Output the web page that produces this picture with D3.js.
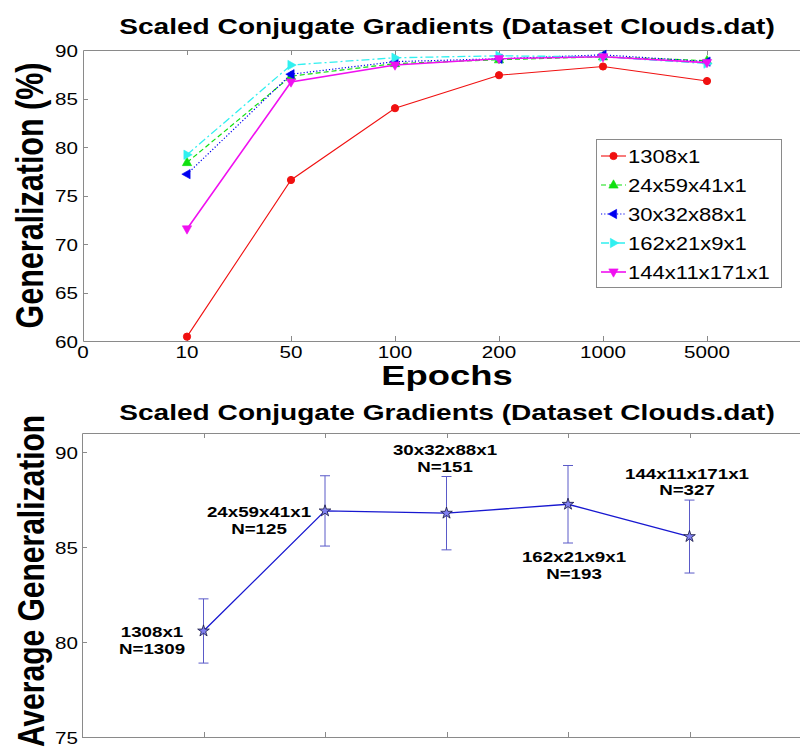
<!DOCTYPE html>
<html>
<head>
<meta charset="utf-8">
<script src="https://cdn.jsdelivr.net/npm/d3@7"></script>
<style>
  html, body { margin: 0; padding: 0; background: #fff; }
  svg { display: block; font-family: "Liberation Sans", Arial, Helvetica, sans-serif; }
</style>
</head>
<body>
<svg id="chart" width="800" height="754"></svg>
<script>
// ---- Data: generalization (%) per training length, one array per architecture ----
const epochTickLabels = ["0", "10", "50", "100", "200", "1000", "5000"];
const epochs = ["10", "50", "100", "200", "1000", "5000"];
const seriesNames = ["1308x1", "24x59x41x1", "30x32x88x1", "162x21x9x1", "144x11x171x1"];
const gen1308x1 = [60.45, 76.6, 84.0, 87.4, 88.3, 86.8];
const gen24x59x41x1 = [78.4, 87.3, 88.6, 89.0, 89.3, 88.9];
const gen30x32x88x1 = [77.2, 87.5, 88.8, 89.1, 89.5, 88.8];
const gen162x21x9x1 = [79.2, 88.45, 89.2, 89.4, 89.3, 88.6];
const gen144x11x171x1 = [71.55, 86.7, 88.45, 89.1, 89.3, 88.7];
const genTicks = [60, 65, 70, 75, 80, 85, 90];

// ---- Data: average generalization with spread, per architecture ----
const archLabels = ["1308x1", "24x59x41x1", "30x32x88x1", "162x21x9x1", "144x11x171x1"];
const sampleCounts = [1309, 125, 151, 193, 327];
const avgGeneralization = [80.58, 86.9, 86.78, 87.25, 85.55];
const spreadGeneralization = [1.69, 1.85, 1.93, 2.04, 1.92];
const avgTicks = [75, 80, 85, 90];

const chartTitle = "Scaled Conjugate Gradients (Dataset Clouds.dat)";

const svg = d3.select("#chart");
const AXIS_GREY = "#8a8a8a";

// Text helper: glyphs are drawn slightly wide, optional rotation
function label(g, x, y, str, o = {}) {
  const sx = o.sx ?? 1.25, rot = o.rot ?? 0;
  return g.append("text")
    .attr("transform", `translate(${x},${y}) scale(${sx},1) rotate(${rot})`)
    .attr("text-anchor", o.anchor ?? "middle")
    .attr("font-size", o.size ?? 16.5)
    .attr("font-weight", o.weight ?? "normal")
    .attr("fill", "#000")
    .text(str);
}

// Marker shapes
function triPath(r) {
  return `M0,${-r}L${r * 0.9},${r * 0.6}L${-r * 0.9},${r * 0.6}Z`;
}
const markerSpec = [
  { kind: "circle" },
  { kind: "tri", rot: 0 },
  { kind: "tri", rot: -90 },
  { kind: "tri", rot: 90 },
  { kind: "tri", rot: 180 }
];
function drawMarker(g, x, y, spec, color) {
  if (spec.kind === "circle") {
    g.append("circle").attr("cx", x).attr("cy", y).attr("r", 3.6).attr("fill", color).attr("stroke", color);
  } else {
    g.append("path").attr("d", triPath(5.2))
      .attr("transform", `translate(${x},${y}) rotate(${spec.rot})`)
      .attr("fill", color).attr("stroke", color).attr("stroke-width", 0.6);
  }
}

// ================= Upper panel =================
const upper = { left: 83, right: 811, top: 50, bottom: 341 };
const xTop = d3.scaleLinear().domain([0, 7]).range([upper.left, upper.right]);
const yTop = d3.scaleLinear().domain([60, 90]).range([upper.bottom, upper.top]);

const gTop = svg.append("g");

// box
gTop.append("path")
  .attr("d", `M${upper.right},${upper.top + 0.5}H${upper.left + 0.5}V${upper.bottom + 0.5}H${upper.right}`)
  .attr("fill", "none").attr("stroke", AXIS_GREY).attr("stroke-width", 1);

// x ticks on top and bottom (inward)
epochTickLabels.forEach((t, i) => {
  const x = Math.round(xTop(i)) + 0.5;
  if (i > 0) {
    gTop.append("line").attr("x1", x).attr("x2", x).attr("y1", upper.top).attr("y2", upper.top + 5)
      .attr("stroke", AXIS_GREY);
    gTop.append("line").attr("x1", x).attr("x2", x).attr("y1", upper.bottom).attr("y2", upper.bottom - 5)
      .attr("stroke", AXIS_GREY);
  }
  label(gTop, xTop(i), 358, t, { size: 16.5 });
});
// y ticks
genTicks.forEach(v => {
  const y = Math.round(yTop(v)) + 0.5;
  if (v !== 60 && v !== 90) {
    gTop.append("line").attr("x1", upper.left).attr("x2", upper.left + 5).attr("y1", y).attr("y2", y)
      .attr("stroke", AXIS_GREY);
  }
  label(gTop, 78, yTop(v) + 6.5, String(v), { anchor: "end", size: 16.5 });
});

label(gTop, 447, 34, chartTitle, { size: 22.3, weight: "bold", sx: 1.26 });
label(gTop, 447, 385, "Epochs", { size: 28, weight: "bold", sx: 1.3 });
label(gTop, 43, (upper.top + upper.bottom) / 2, "Generalization (%)", { size: 30.5, weight: "bold", sx: 1.25, rot: -90 });

const topSeries = [
  { name: seriesNames[0], values: gen1308x1, color: "#f01010", dash: null, width: 1.1 },
  { name: seriesNames[1], values: gen24x59x41x1, color: "#10e010", dash: "5,3", width: 1.2 },
  { name: seriesNames[2], values: gen30x32x88x1, color: "#0000f0", dash: "1.2,2", width: 1.2 },
  { name: seriesNames[3], values: gen162x21x9x1, color: "#30f0f0", dash: "8,3,2,3", width: 1.3 },
  { name: seriesNames[4], values: gen144x11x171x1, color: "#f010f0", dash: null, width: 1.6 }
];

const lineGen = d3.line().x((d, i) => xTop(i + 1)).y(d => yTop(d));
topSeries.forEach((s, k) => {
  const g = gTop.append("g");
  g.append("path").attr("d", lineGen(s.values))
    .attr("fill", "none").attr("stroke", s.color).attr("stroke-width", s.width)
    .attr("stroke-dasharray", s.dash);
  s.values.forEach((v, i) => drawMarker(g, xTop(i + 1), yTop(v), markerSpec[k], s.color));
});

// legend
const lg = gTop.append("g");
lg.append("rect").attr("x", 596.5).attr("y", 139.5).attr("width", 185).attr("height", 148)
  .attr("fill", "#fff").attr("stroke", AXIS_GREY);
topSeries.forEach((s, k) => {
  const cy = 156 + k * 29;
  lg.append("line").attr("x1", 601).attr("x2", 626).attr("y1", cy).attr("y2", cy)
    .attr("stroke", s.color).attr("stroke-width", s.width).attr("stroke-dasharray", s.dash);
  drawMarker(lg, 613.5, cy, markerSpec[k], s.color);
  label(lg, 628, cy + 7, s.name, { anchor: "start", size: 19, sx: 1.16 });
});

// ================= Lower panel =================
const lower = { left: 82, right: 811, top: 433, bottom: 737 };
const xBot = d3.scaleLinear().domain([0, 6]).range([lower.left, lower.right]);
const yBot = d3.scaleLinear().domain([75, 91]).range([lower.bottom, lower.top]);
const gBot = svg.append("g");

gBot.append("path")
  .attr("d", `M${lower.right},${lower.top + 0.5}H${lower.left + 0.5}V${lower.bottom + 0.5}H${lower.right}`)
  .attr("fill", "none").attr("stroke", AXIS_GREY).attr("stroke-width", 1);

archLabels.forEach((a, i) => {
  const x = Math.round(xBot(i + 1)) + 0.5;
  gBot.append("line").attr("x1", x).attr("x2", x).attr("y1", lower.top).attr("y2", lower.top + 5).attr("stroke", AXIS_GREY);
  gBot.append("line").attr("x1", x).attr("x2", x).attr("y1", lower.bottom).attr("y2", lower.bottom - 5).attr("stroke", AXIS_GREY);
});
avgTicks.forEach(v => {
  const y = Math.round(yBot(v)) + 0.5;
  gBot.append("line").attr("x1", lower.left).attr("x2", lower.left + 5).attr("y1", y).attr("y2", y).attr("stroke", AXIS_GREY);
  label(gBot, 78, yBot(v) + 6.5, String(v), { anchor: "end", size: 16.5 });
});

label(gBot, 447, 420, chartTitle, { size: 22.3, weight: "bold", sx: 1.26 });
label(gBot, 44, 581, "Average Generalization", { size: 30, weight: "bold", sx: 1.22, rot: -90 });

// error bars
const ERR = "#5a5ac8";
avgGeneralization.forEach((m, i) => {
  const x = xBot(i + 1), s = spreadGeneralization[i];
  const y1 = yBot(m + s), y2 = yBot(m - s);
  gBot.append("line").attr("x1", x).attr("x2", x).attr("y1", y1).attr("y2", y2).attr("stroke", ERR).attr("stroke-width", 1);
  [y1, y2].forEach(yy => gBot.append("line").attr("x1", x - 5).attr("x2", x + 5).attr("y1", yy).attr("y2", yy)
    .attr("stroke", ERR).attr("stroke-width", 1));
});

// mean line
gBot.append("path")
  .attr("d", d3.line().x((d, i) => xBot(i + 1)).y(d => yBot(d))(avgGeneralization))
  .attr("fill", "none").attr("stroke", "#1818d0").attr("stroke-width", 1.3);

// star markers
const star = d3.symbol().type(d3.symbolStar).size(42);
avgGeneralization.forEach((m, i) => {
  gBot.append("path").attr("d", star())
    .attr("transform", `translate(${xBot(i + 1)},${yBot(m)})`)
    .attr("fill", "#8080f0").attr("stroke", "#141440").attr("stroke-width", 0.8);
});

// annotations: architecture and sample count next to each point
const noteOffset = [[-51.5, 6], [-66, 6], [-1.5, -58], [6, 57.5], [-2.5, -58]];
archLabels.forEach((a, i) => {
  const x = xBot(i + 1) + noteOffset[i][0];
  const y = yBot(avgGeneralization[i]) + noteOffset[i][1];
  label(gBot, x, y, a, { size: 15, weight: "bold", sx: 1.25 });
  label(gBot, x, y + 16.8, "N=" + sampleCounts[i], { size: 15, weight: "bold", sx: 1.25 });
});
</script>
</body>
</html>
